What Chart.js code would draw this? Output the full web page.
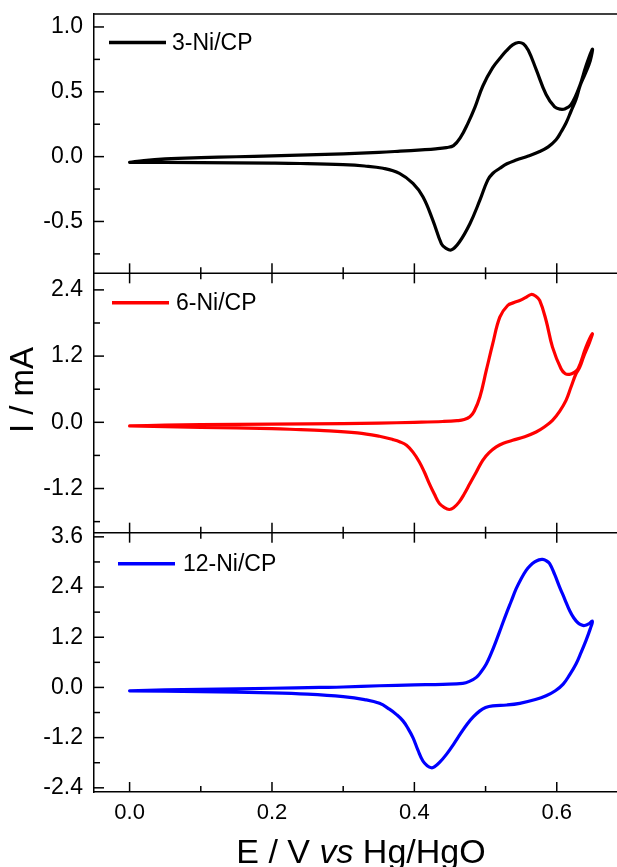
<!DOCTYPE html>
<html>
<head>
<meta charset="utf-8">
<script src="https://cdn.jsdelivr.net/npm/chart.js@4.4.1/dist/chart.umd.min.js"></script>
<style>
  html, body { margin: 0; padding: 0; background: #fff; overflow: hidden; }
  #wrap { width: 617px; height: 867px; }
</style>
</head>
<body>
<div id="wrap"><canvas id="cv" width="617" height="867"></canvas></div>
<script>
// potential E (V vs Hg/HgO) and current I (mA), forward scan then reverse scan
const e3 = [0.000, 0.020, 0.050, 0.100, 0.150, 0.200, 0.250, 0.300, 0.350, 0.380, 0.410, 0.430, 0.445, 0.455, 0.465, 0.475, 0.485, 0.496, 0.510, 0.522, 0.529, 0.538, 0.546, 0.553, 0.560, 0.571, 0.585, 0.597, 0.605, 0.612, 0.620, 0.632, 0.641, 0.650,
            0.647, 0.640, 0.633, 0.627, 0.620, 0.613, 0.606, 0.599, 0.588, 0.576, 0.560, 0.543, 0.530, 0.520, 0.510, 0.503, 0.492, 0.478, 0.463, 0.452, 0.444, 0.438, 0.426, 0.412, 0.398, 0.379, 0.356, 0.330, 0.300, 0.240, 0.200, 0.100, 0.000];
const i3 = [-0.044, -0.030, -0.018, -0.008, -0.001, 0.006, 0.013, 0.022, 0.033, 0.042, 0.052, 0.060, 0.070, 0.085, 0.150, 0.255, 0.380, 0.543, 0.686, 0.770, 0.815, 0.862, 0.880, 0.870, 0.820, 0.673, 0.479, 0.383, 0.366, 0.370, 0.401, 0.543, 0.699, 0.828,
            0.740, 0.640, 0.550, 0.440, 0.350, 0.259, 0.190, 0.130, 0.075, 0.039, 0.005, -0.026, -0.055, -0.090, -0.130, -0.181, -0.336, -0.517, -0.660, -0.719, -0.705, -0.673, -0.491, -0.310, -0.207, -0.129, -0.090, -0.072, -0.062, -0.053, -0.050, -0.046, -0.044];

const e6 = [0.000, 0.050, 0.100, 0.200, 0.300, 0.350, 0.400, 0.440, 0.460, 0.470, 0.478, 0.484, 0.492, 0.501, 0.510, 0.520, 0.531, 0.540, 0.548, 0.556, 0.564, 0.570, 0.576, 0.585, 0.594, 0.606, 0.612, 0.618, 0.624, 0.630, 0.641, 0.650,
            0.646, 0.638, 0.632, 0.627, 0.620, 0.613, 0.604, 0.594, 0.583, 0.571, 0.555, 0.538, 0.525, 0.515, 0.505, 0.496, 0.487, 0.478, 0.470, 0.463, 0.455, 0.449, 0.442, 0.435, 0.428, 0.421, 0.414, 0.407, 0.398, 0.389, 0.380, 0.370, 0.351, 0.320, 0.267, 0.240, 0.200, 0.100, 0.000];
const i6 = [-0.066, -0.050, -0.042, -0.032, -0.022, -0.015, 0.000, 0.015, 0.030, 0.050, 0.100, 0.200, 0.458, 0.940, 1.420, 1.906, 2.117, 2.170, 2.208, 2.260, 2.317, 2.290, 2.208, 1.846, 1.363, 0.970, 0.880, 0.869, 0.900, 0.970, 1.363, 1.605,
            1.450, 1.200, 0.990, 0.880, 0.640, 0.398, 0.200, 0.036, -0.080, -0.175, -0.260, -0.326, -0.380, -0.446, -0.550, -0.688, -0.900, -1.110, -1.300, -1.442, -1.550, -1.580, -1.545, -1.470, -1.300, -1.110, -0.900, -0.718, -0.540, -0.416, -0.355, -0.313, -0.253, -0.190, -0.145, -0.133, -0.115, -0.090, -0.066];

const e12 = [0.000, 0.050, 0.100, 0.200, 0.267, 0.300, 0.351, 0.400, 0.440, 0.468, 0.478, 0.487, 0.494, 0.501, 0.508, 0.515, 0.522, 0.529, 0.536, 0.543, 0.550, 0.557, 0.563, 0.569, 0.575, 0.580, 0.585, 0.590, 0.597, 0.604, 0.611, 0.618, 0.624, 0.630, 0.635, 0.639, 0.645, 0.650,
             0.647, 0.641, 0.634, 0.627, 0.618, 0.609, 0.598, 0.585, 0.570, 0.548, 0.530, 0.510, 0.500, 0.492, 0.483, 0.474, 0.465, 0.455, 0.445, 0.435, 0.428, 0.424, 0.418, 0.412, 0.405, 0.398, 0.391, 0.384, 0.375, 0.365, 0.351, 0.330, 0.300, 0.250, 0.200, 0.100, 0.000];
const i12 = [-0.080, -0.060, -0.045, -0.020, 0.000, 0.010, 0.040, 0.060, 0.075, 0.096, 0.150, 0.240, 0.380, 0.560, 0.820, 1.120, 1.440, 1.760, 2.060, 2.360, 2.600, 2.800, 2.920, 3.000, 3.050, 3.060, 3.030, 2.960, 2.700, 2.400, 2.120, 1.840, 1.660, 1.540, 1.490, 1.480, 1.520, 1.580,
             1.400, 1.120, 0.830, 0.560, 0.300, 0.080, -0.080, -0.200, -0.290, -0.380, -0.420, -0.440, -0.480, -0.560, -0.700, -0.880, -1.100, -1.360, -1.600, -1.800, -1.900, -1.920, -1.870, -1.760, -1.500, -1.200, -0.980, -0.800, -0.650, -0.520, -0.380, -0.290, -0.220, -0.160, -0.130, -0.100, -0.080];

const labels = ['3-Ni/CP', '6-Ni/CP', '12-Ni/CP'];
const colors = ['#000000', '#ff0000', '#0000ff'];

const xTicks = [0.0, 0.2, 0.4, 0.6];
const yTicksTop = [-0.5, 0.0, 0.5, 1.0];
const yTicksMid = [-1.2, 0.0, 1.2, 2.4];
const yTicksBot = [-2.4, -1.2, 0.0, 1.2, 2.4, 3.6];

const FONT = '"Liberation Sans", Arial, Helvetica, sans-serif';

function toPoints(xs, ys) {
  return xs.map((x, k) => ({x: x, y: ys[k]}));
}

function minorOf(ticks, min, max) {
  const step = ticks[1] - ticks[0];
  const out = [];
  for (let v = ticks[0] - step / 2; v <= ticks[ticks.length - 1] + step / 2 + 1e-9; v += step) {
    if (v >= min && v <= max) out.push(v);
  }
  return out;
}

function yScale(ticks, min, max) {
  return {
    type: 'linear',
    position: 'left',
    stack: 'panels',
    stackWeight: 1,
    min: min,
    max: max,
    afterBuildTicks: s => { s.ticks = ticks.map(v => ({value: v})); },
    afterFit: s => { s.width = 94; s.paddingTop = 0; s.paddingBottom = 0; },
    grid: {display: false, drawTicks: false},
    border: {display: true, color: '#000', width: 1.5},
    ticks: {
      color: '#000',
      padding: 11,
      autoSkip: false,
      font: {family: FONT, size: 23},
      callback: v => v.toFixed(1)
    }
  };
}

const framePlugin = {
  id: 'frame',
  afterDraw(chart) {
    const ctx = chart.ctx;
    const xs = chart.scales.x;
    const area = chart.chartArea;
    const panels = ['y0', 'y1', 'y2'].map(id => chart.scales[id]);
    const tickSets = [yTicksTop, yTicksMid, yTicksBot];

    ctx.save();
    ctx.strokeStyle = '#000';
    ctx.lineWidth = 1.5;

    // top edge and panel separators
    panels.forEach(p => {
      ctx.beginPath();
      ctx.moveTo(area.left, p.top);
      ctx.lineTo(area.right, p.top);
      ctx.stroke();
    });

    // inward y ticks
    panels.forEach((p, k) => {
      const major = tickSets[k];
      const minor = minorOf(major, p.min, p.max);
      major.forEach(v => {
        const y = p.getPixelForValue(v);
        ctx.beginPath(); ctx.moveTo(area.left, y); ctx.lineTo(area.left + 10, y); ctx.stroke();
      });
      minor.forEach(v => {
        const y = p.getPixelForValue(v);
        ctx.beginPath(); ctx.moveTo(area.left, y); ctx.lineTo(area.left + 6, y); ctx.stroke();
      });
    });

    // x ticks: crossing at separators, inward at bottom
    const xMinor = minorOf(xTicks, xs.min, xs.max);
    const drawX = (vals, len) => {
      vals.forEach(v => {
        const x = xs.getPixelForValue(v);
        [panels[1].top, panels[2].top].forEach(y => {
          ctx.beginPath(); ctx.moveTo(x, y - len); ctx.lineTo(x, y + len); ctx.stroke();
        });
        ctx.beginPath(); ctx.moveTo(x, area.bottom); ctx.lineTo(x, area.bottom - len); ctx.stroke();
      });
    };
    drawX(xTicks, 10);
    drawX(xMinor, 6);

    // per-panel legend
    const legendX = [15, 18, 24];
    const legendY = [28.5, 29.5, 31];
    const legendGap = [6, 7, 8];
    chart.data.datasets.forEach((ds, k) => {
      const p = chart.scales[ds.yAxisID];
      const y = p.top + legendY[k];
      const x0 = area.left + legendX[k];
      ctx.strokeStyle = ds.borderColor;
      ctx.lineWidth = 3.5;
      ctx.beginPath(); ctx.moveTo(x0, y); ctx.lineTo(x0 + 57, y); ctx.stroke();
      ctx.fillStyle = '#000';
      ctx.font = '23px ' + FONT;
      ctx.textAlign = 'left';
      ctx.textBaseline = 'middle';
      ctx.fillText(ds.label, x0 + 57 + legendGap[k], y + 1);
    });

    // y title
    ctx.fillStyle = '#000';
    ctx.save();
    ctx.translate(24, 390);
    ctx.rotate(-Math.PI / 2);
    ctx.font = '33px ' + FONT;
    ctx.textAlign = 'center';
    ctx.textBaseline = 'middle';
    ctx.fillText('I / mA', 0, 0);
    ctx.restore();

    // x title with italic "vs"
    const parts = [['E / V ', ''], ['vs', 'italic '], [' Hg/HgO', '']];
    let total = 0;
    parts.forEach(pt => { ctx.font = pt[1] + '34px ' + FONT; total += ctx.measureText(pt[0]).width; });
    let cx = xs.getPixelForValue(0.325) - total / 2;
    ctx.textAlign = 'left';
    ctx.textBaseline = 'alphabetic';
    parts.forEach(pt => {
      ctx.font = pt[1] + '34px ' + FONT;
      ctx.fillText(pt[0], cx, 863);
      cx += ctx.measureText(pt[0]).width;
    });

    ctx.restore();
  }
};

const series = [[e3, i3], [e6, i6], [e12, i12]];

new Chart(document.getElementById('cv'), {
  type: 'scatter',
  data: {
    datasets: series.map((s, k) => ({
      label: labels[k],
      data: toPoints(s[0], s[1]),
      xAxisID: 'x',
      yAxisID: 'y' + k,
      showLine: true,
      borderColor: colors[k],
      backgroundColor: colors[k],
      borderWidth: 3.2,
      borderJoinStyle: 'round',
      borderCapStyle: 'round',
      pointRadius: 0,
      tension: 0.4,
      fill: false
    }))
  },
  options: {
    responsive: false,
    animation: false,
    layout: {padding: {top: 14, right: 0, bottom: 0, left: 0}},
    plugins: {legend: {display: false}, tooltip: {enabled: false}},
    scales: {
      x: {
        type: 'linear',
        position: 'bottom',
        min: -0.05,
        max: 0.6846,
        afterBuildTicks: s => { s.ticks = xTicks.map(v => ({value: v})); },
        afterFit: s => { s.height = 75; s.paddingLeft = 0; s.paddingRight = 0; },
        grid: {display: false, drawTicks: false},
        border: {display: true, color: '#000', width: 1.5},
        ticks: {
          color: '#000',
          padding: 8,
          autoSkip: false,
          maxRotation: 0,
          font: {family: FONT, size: 22},
          callback: v => v.toFixed(1)
        }
      },
      // stacked panels are laid out last-defined on top
      y2: yScale(yTicksBot, -2.5, 3.7),
      y1: yScale(yTicksMid, -2.0, 2.7),
      y0: yScale(yTicksTop, -0.9, 1.1)
    }
  },
  plugins: [framePlugin]
});
</script>
</body>
</html>
